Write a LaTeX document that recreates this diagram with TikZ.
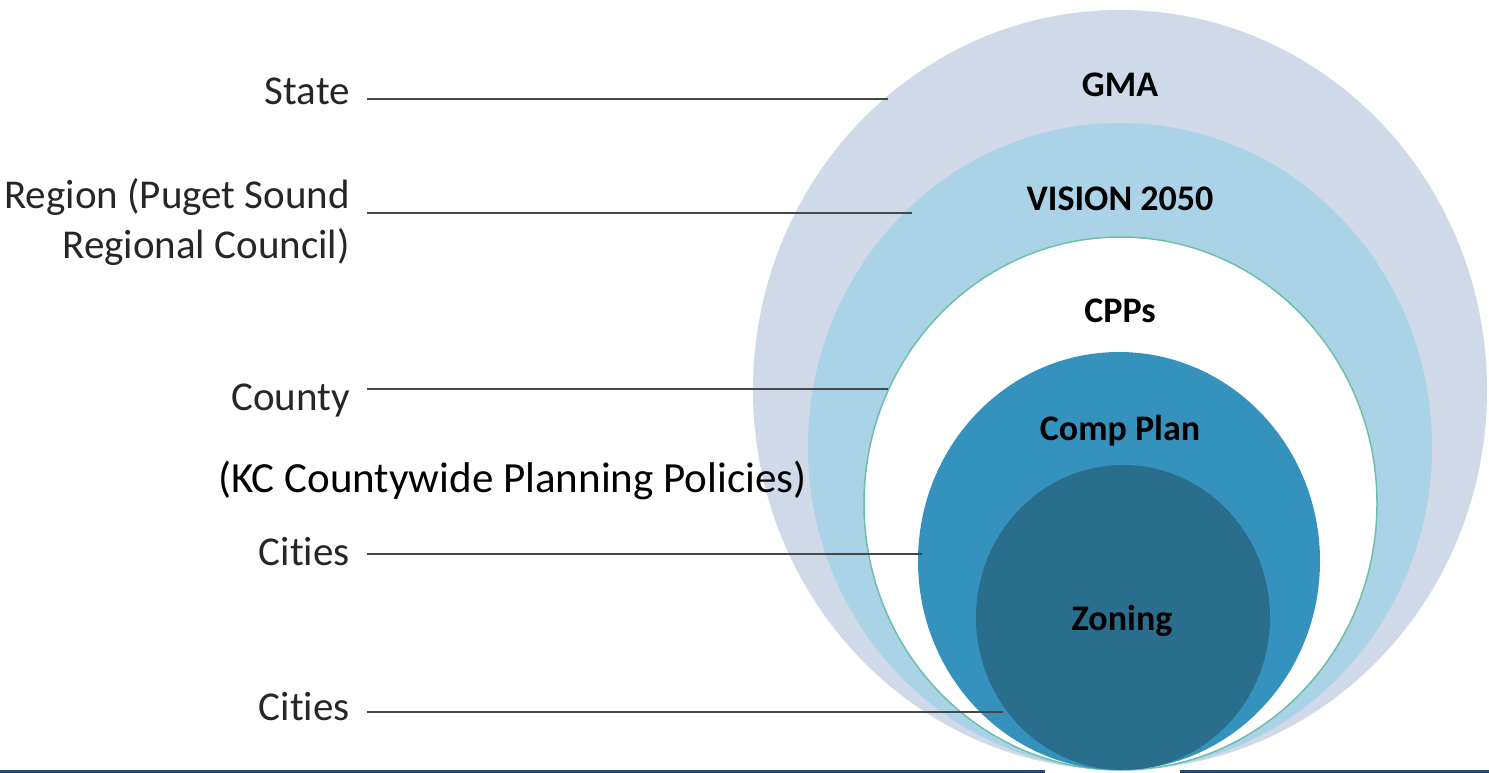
\documentclass[tikz,border=0pt]{standalone}
\usepackage{fontspec}
\setmainfont{Carlito}[Ligatures=NoCommon]
\usetikzlibrary{positioning}
\definecolor{gmaFill}{HTML}{CFD9E7}
\definecolor{visionFill}{HTML}{ABD3E7}
\definecolor{cppLine}{HTML}{6CC0A8}
\definecolor{compFill}{HTML}{3592BD}
\definecolor{zoneFill}{HTML}{2A6E8D}
\definecolor{barBlue}{HTML}{1E4A76}
\definecolor{labelGray}{HTML}{262626}
\definecolor{leaderGray}{HTML}{474747}

\begin{document}
\begin{tikzpicture}[
    x=1pt, y=-1pt,
    every node/.style={inner sep=0pt},
    level/.style={anchor=base east, inner xsep=17pt, text=labelGray, font=\fontsize{41}{50}\selectfont},
    ring/.style={anchor=base, text=black, font=\fontsize{36}{40}\selectfont\bfseries},
    leader/.style={draw=leaderGray, line width=2.2pt},
]
    \useasboundingbox (0,0) rectangle (1489,773);

    % Bottom bar
    \fill[barBlue] (0,770) rectangle (1045,773);
    \fill[barBlue] (1180,770) rectangle (1489,773);

    % Nested plans
    \fill[gmaFill] (1120,390) ellipse [x radius=367, y radius=380];
    \fill[visionFill] (1120,446.5) ellipse [x radius=312, y radius=323.5];
    \filldraw[fill=white, draw=cppLine, line width=1.5pt] (1120.5,503.5) ellipse [x radius=256.5, y radius=266.5];
    \fill[compFill] (1119,561) ellipse [x radius=201, y radius=209];
    \fill[zoneFill] (1123,617.5) ellipse [x radius=147, y radius=152.5];

    % Plan names
    \node[ring] (gma) at (1120,97) {GMA};
    \node[ring] (vision) at (1120,210) {VISION 2050};
    \node[ring] (cpps) at (1120,322) {CPPs};
    \node[ring] (comp) at (1120,440) {Comp Plan};
    \node[ring] (zoning) at (1122,630) {Zoning};

    % Levels of government
    \node[level] (state) at (367,105) {State};
    \node[level, anchor=east, align=right] (region) at (367,222) {Region (Puget Sound\\Regional Council)};
    \node[level] (county) at (367,410) {County};
    \node[anchor=base west, text=black, font=\fontsize{43}{50}\selectfont] (kcpp) at (218,492) {(KC Countywide Planning Policies)};
    \node[level] (cities) at (367,565) {Cities};
    \node[level] (citiesB) at (367,720) {Cities};

    % Leader ends
    \coordinate (stateEnd) at (888,99);
    \coordinate (regionEnd) at (912,213);
    \coordinate (countyEnd) at (888,389);
    \coordinate (citiesEnd) at (922,554);
    \coordinate (citiesBEnd) at (1003,712);

    % Leaders
    \draw[leader] (state.east |- stateEnd) -- (stateEnd);
    \draw[leader] (region.east |- regionEnd) -- (regionEnd);
    \draw[leader] (county.east |- countyEnd) -- (countyEnd);
    \draw[leader] (cities.east |- citiesEnd) -- (citiesEnd);
    \draw[leader] (citiesB.east |- citiesBEnd) -- (citiesBEnd);
\end{tikzpicture}
\end{document}
